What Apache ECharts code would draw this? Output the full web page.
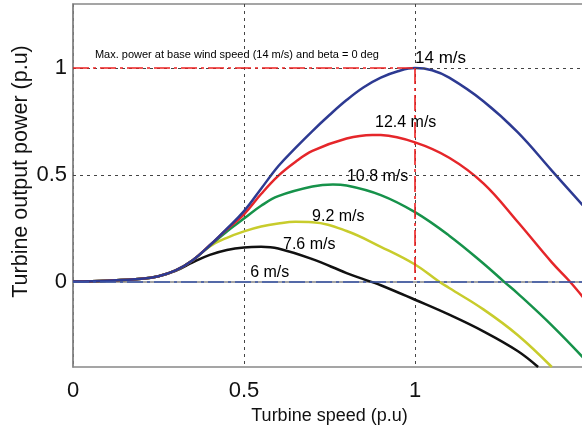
<!DOCTYPE html>
<html>
<head>
<meta charset="utf-8">
<script src="https://cdn.jsdelivr.net/npm/echarts@6/dist/echarts.min.js"></script>
<style>
html,body{margin:0;padding:0;background:#fff;}
#chart{width:582px;height:432px;}
</style>
</head>
<body>
<div id="chart"></div>
<script>
// ---- data ----
const speeds = ['6 m/s', '7.6 m/s', '9.2 m/s', '10.8 m/s', '12.4 m/s', '14 m/s'];
const curve6 = [[0,0],[0.1,0.004],[0.2,0.013],[0.25,0.025],[0.3,0.05],[0.35,0.09],[0.4,0.125],[0.45,0.148],[0.5,0.16],[0.55,0.163],[0.6,0.155],[0.7,0.105],[0.8,0.04],[0.87,0],[0.9,-0.017],[1.0,-0.085],[1.1,-0.155],[1.2,-0.233],[1.3,-0.325],[1.36,-0.40]];
const curve76 = [[0,0],[0.1,0.004],[0.2,0.013],[0.25,0.025],[0.3,0.052],[0.35,0.1],[0.4,0.165],[0.45,0.205],[0.5,0.235],[0.55,0.258],[0.6,0.272],[0.65,0.28],[0.7,0.278],[0.8,0.237],[0.9,0.163],[1.0,0.08],[1.07,0.0],[1.1,-0.03],[1.2,-0.13],[1.3,-0.25],[1.4,-0.40]];
const curve108 = [[0,0],[0.1,0.004],[0.2,0.013],[0.25,0.025],[0.3,0.052],[0.35,0.1],[0.4,0.168],[0.45,0.235],[0.5,0.295],[0.55,0.355],[0.6,0.40],[0.7,0.445],[0.76,0.455],[0.8,0.45],[0.9,0.405],[1.0,0.325],[1.1,0.215],[1.2,0.085],[1.26,0.0],[1.3,-0.055],[1.4,-0.205],[1.5,-0.37]];
const curve124 = [[0,0],[0.1,0.004],[0.2,0.013],[0.25,0.025],[0.3,0.052],[0.35,0.1],[0.4,0.17],[0.45,0.245],[0.5,0.315],[0.55,0.41],[0.6,0.495],[0.65,0.56],[0.7,0.612],[0.8,0.67],[0.875,0.687],[0.9,0.686],[1.0,0.652],[1.1,0.58],[1.2,0.46],[1.3,0.28],[1.4,0.09],[1.45,0.005],[1.5,-0.09]];
const curve14 = [[0,0],[0.1,0.004],[0.2,0.013],[0.25,0.025],[0.3,0.052],[0.35,0.1],[0.4,0.17],[0.45,0.248],[0.5,0.33],[0.55,0.435],[0.6,0.54],[0.65,0.625],[0.7,0.705],[0.75,0.78],[0.8,0.85],[0.85,0.91],[0.9,0.955],[0.95,0.985],[1.0,1.0],[1.05,0.99],[1.1,0.955],[1.2,0.845],[1.3,0.70],[1.4,0.52],[1.5,0.34]];
// label anchor positions (data coords)
const labelX = [0.518, 0.614, 0.699, 0.801, 0.883, 1.0];
const labelY = [0.042, 0.173, 0.304, 0.491, 0.743, 1.047];
const noteText = 'Max. power at base wind speed (14 m/s) and beta = 0 deg';
const notePos = [0.064, 1.06];
// reference values
const baseSpeed = 1;
const basePower = 1;
const yTicks = [0, 0.5, 1];
const xTicks = [0, 0.5, 1];
const xRange = [0, 1.5];
const yRange = [-0.4, 1.3];

const font = 'Liberation Sans, Arial, sans-serif';
const dashDot = [16, 4, 3, 4];

const chart = echarts.init(document.getElementById('chart'), null, {renderer: 'canvas'});

function curve(name, data, color) {
  return {
    name: name, type: 'line', data: data, smooth: 0.4, symbol: 'none',
    lineStyle: {color: color, width: 2.5}, z: 3, clip: true
  };
}

const option = {
  backgroundColor: '#fff',
  animation: false,
  grid: {left: 73, top: 4, right: -4, bottom: 65, outerBoundsMode: 'none', containLabel: false,
    show: true, borderColor: '#888', borderWidth: 1.5, backgroundColor: 'transparent'},
  xAxis: {
    type: 'value', min: xRange[0], max: xRange[1], interval: 0.5,
    name: 'Turbine speed (p.u)', nameLocation: 'middle', nameGap: 40, nameMoveOverlap: false,
    nameTextStyle: {fontFamily: font, fontSize: 18, color: '#111'},
    axisLine: {lineStyle: {color: '#888', width: 1.5}},
    axisTick: {show: false},
    axisLabel: {fontFamily: font, fontSize: 22, color: '#111', margin: 13,
      formatter: v => (xTicks.indexOf(v) >= 0 ? String(v) : '')},
    splitLine: {show: true, lineStyle: {color: '#444', type: [3, 4], width: 1}}
  },
  yAxis: {
    type: 'value', min: yRange[0], max: yRange[1],
    name: '{s|}Turbine output power (p.u)', nameLocation: 'middle', nameGap: 41, nameMoveOverlap: false,
    nameTextStyle: {fontFamily: font, fontSize: 21.5, color: '#111',
      rich: {s: {width: 28}}},
    axisLine: {show: true, lineStyle: {color: '#888', width: 1.5}},
    axisTick: {show: false, customValues: yTicks},
    axisLabel: {fontFamily: font, fontSize: 22, color: '#111', margin: 6, customValues: yTicks,
      formatter: v => String(v)},
    splitLine: {show: false}
  },
  series: [
    {
      type: 'line', data: [], silent: true, z: 1,
      markLine: {
        silent: true, symbol: 'none', animation: false,
        label: {show: false},
        data: [
          {yAxis: yTicks[1], lineStyle: {color: '#444', type: [3, 4], width: 1}},
          {yAxis: yTicks[2], lineStyle: {color: '#444', type: [3, 4], width: 1}}
        ]
      }
    },
    curve(speeds[0], curve6, '#111111'),
    curve(speeds[1], curve76, '#c8cc2c'),
    curve(speeds[3], curve108, '#16924a'),
    curve(speeds[4], curve124, '#e5262a'),
    curve(speeds[5], curve14, '#2d3a92'),
    {
      type: 'line', data: [], silent: true, z: 4,
      markLine: {
        silent: true, symbol: 'none', animation: false,
        label: {show: false},
        data: [
          [{coord: [xRange[0], basePower]}, {coord: [baseSpeed, basePower]}],
          [{coord: [baseSpeed, basePower]}, {coord: [baseSpeed, 0]}],
        ],
        lineStyle: {color: '#ee2222', type: dashDot, width: 1.6}
      }
    },
    {
      type: 'line', data: [], silent: true, z: 4,
      markLine: {
        silent: true, symbol: 'none', animation: false,
        label: {show: false},
        data: [[{coord: [xRange[0], 0]}, {coord: [xRange[1], 0]}]],
        lineStyle: {color: '#3a55a8', type: dashDot, width: 1.6}
      }
    },
    {
      type: 'scatter', symbolSize: 0, z: 6, silent: true,
      itemStyle: {opacity: 1},
      data: speeds.map((s, i) => ({value: [labelX[i], labelY[i]], name: s,
        label: {fontSize: i === 5 ? 17 : 16}})),
      label: {show: true, position: 'right', distance: 0, formatter: p => p.name,
        fontFamily: font, color: '#000'}
    },
    {
      type: 'scatter', symbolSize: 0, z: 6, silent: true,
      itemStyle: {opacity: 1},
      data: [{value: notePos, name: noteText}],
      label: {show: true, position: 'right', distance: 0, formatter: p => p.name,
        fontFamily: font, fontSize: 11, color: '#000'}
    }
  ]
};
chart.setOption(option);
</script>
</body>
</html>
